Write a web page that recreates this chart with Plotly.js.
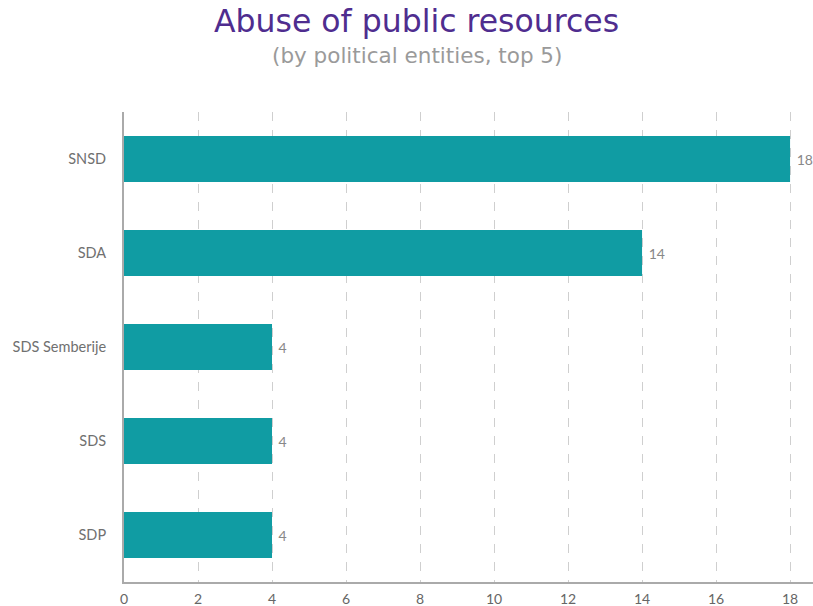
<!DOCTYPE html>
<html><head><meta charset="utf-8">
<script src="https://cdn.plot.ly/plotly-3.0.1.min.js"></script>
<style>html,body{margin:0;padding:0;background:#fff}</style>
</head><body>
<div id="chart" style="width:813px;height:606px"></div>
<script>
const categories = ["SNSD", "SDA", "SDS Semberije", "SDS", "SDP"];
const values = [18, 14, 4, 4, 4];
const tickVals = [0, 2, 4, 6, 8, 10, 12, 14, 16, 18];

const trace = {
  type: "bar",
  orientation: "h",
  y: categories,
  x: values,
  text: values.map(v => "\u00a0" + v),
  textposition: "outside",
  cliponaxis: false,
  textfont: {family: "Lato, sans-serif", size: 14, color: "#888"},
  marker: {color: "#109ca3", line: {width: 0}},
  width: 0.49,
  hoverinfo: "none"
};

const layout = {
  width: 813, height: 606,
  margin: {l: 124, r: 0, t: 112, b: 24},
  paper_bgcolor: "#fff", plot_bgcolor: "#fff",
  showlegend: false,
  font: {family: "Lato, sans-serif", color: "#666"},
  xaxis: {
    range: [0, 18.62],
    tickvals: tickVals,
    ticktext: tickVals.map(String),
    showgrid: true, gridcolor: "#cfcfcf", griddash: "dash", gridwidth: 1,
    zeroline: false,
    showline: true, linecolor: "#aaa", linewidth: 2,
    ticks: "", ticklabelstandoff: 3, tickfont: {size: 14, color: "#666"},
    fixedrange: true
  },
  yaxis: {
    autorange: "reversed",
    showgrid: false, zeroline: false,
    showline: true, linecolor: "#aaa", linewidth: 2,
    ticks: "", ticklabelstandoff: 13, tickfont: {size: 14.5, color: "#707070"},
    fixedrange: true
  },
  annotations: [
    {text: "Abuse of public resources", xref: "paper", yref: "paper", x: 0.425, xanchor: "center",
     y: 1.236, yanchor: "top", showarrow: false,
     font: {family: "'DejaVu Sans', sans-serif", size: 31.5, color: "#4f2d8f"}},
    {text: "(by political entities, top 5)", xref: "paper", yref: "paper", x: 0.425, xanchor: "center",
     y: 1.152, yanchor: "top", showarrow: false,
     font: {family: "'DejaVu Sans', sans-serif", size: 21.5, color: "#9a9a9a"}}
  ]
};

Plotly.newPlot("chart", [trace], layout, {displayModeBar: false, staticPlot: true});
</script>
</body></html>
